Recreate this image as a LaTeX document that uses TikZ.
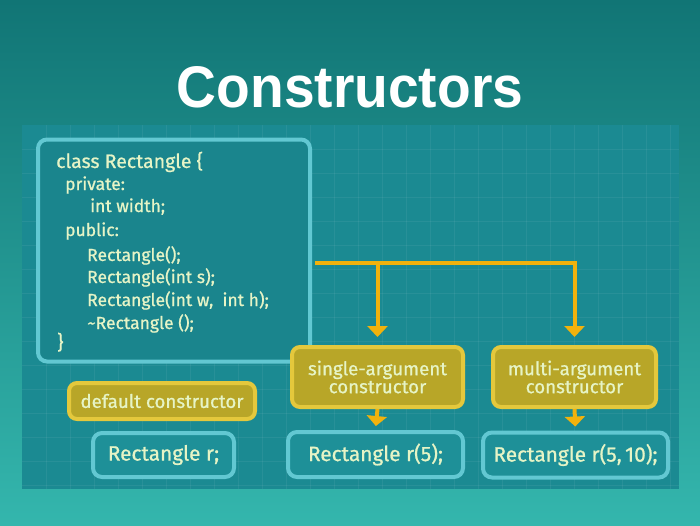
\documentclass[tikz,border=0pt]{standalone}
\usepackage{fontspec}
\setmainfont[FakeBold=0.8]{Fira Sans}
\newfontfamily\titlefont[FakeStretch=0.94]{Liberation Sans}
\usetikzlibrary{arrows.meta,positioning}

\definecolor{bgtop}{HTML}{117575}
\definecolor{bgbot}{HTML}{34B6AD}
\definecolor{panel}{HTML}{1B8A92}
\definecolor{codefill}{HTML}{1A858D}
\definecolor{cyanline}{HTML}{62C8D2}
\definecolor{codetext}{HTML}{E6F4C6}
\definecolor{olivefill}{HTML}{B8A628}
\definecolor{oliveline}{HTML}{E4C83C}
\definecolor{arrowyel}{HTML}{F2B20C}
\definecolor{objfill}{HTML}{1E9098}

\tikzset{
  codebox/.style={draw=cyanline, line width=4pt, fill=codefill, rounded corners=9pt},
  codeline/.style={anchor=base west, inner sep=0pt, text=codetext,
    font=\fontsize{17.5}{20}\selectfont},
  kindbox/.style={draw=oliveline, line width=4pt, fill=olivefill, rounded corners=8pt,
    text=codetext, align=center, font=\fontsize{18.7}{21}\selectfont},
  objbox/.style={draw=cyanline, line width=4pt, fill=objfill, rounded corners=9pt,
    text=codetext, font=\fontsize{20.8}{24}\selectfont},
  bigarrow/.style={draw=arrowyel, line width=4pt,
    -{Triangle[width=20pt,length=11pt]}, shorten >=8pt},
  smallarrow/.style={draw=arrowyel, line width=4pt,
    -{Triangle[width=20pt,length=10pt]}, shorten >=4pt},
  gridline/.style={draw=white, opacity=0.06, line width=0.8pt}
}

\begin{document}
\begin{tikzpicture}[x=1pt,y=-1pt]
	\useasboundingbox (0,0) rectangle (700,525);
	%%  background  %%%%%%%%
	\shade[top color=bgtop, bottom color=bgbot] (0,0) rectangle (700,525);
	\fill[panel] (22,125) rectangle (679,489);
	\foreach \gx in {46,70,...,670} \draw[gridline] (\gx,125) -- (\gx,489);
	\foreach \gy in {149,173,...,485} \draw[gridline] (22,\gy) -- (679,\gy);

	%%  title  %%%%%%%%
	\node[anchor=base, inner sep=0pt, text=white,
	  font=\titlefont\bfseries\fontsize{58.7}{62}\selectfont] (title) at (350,107) {Constructors};

	%%  class declaration  %%%%%%%%
	\node[codebox, minimum width=272pt, minimum height=222pt] (code) at (174,250.5) {};
	\node[codeline, font=\fontsize{19.5}{22}\selectfont] (decl) at (56,168) {class Rectangle \{};
	\node[codeline] (priv) at (65,190) {private:};
	\node[codeline] (width) at (90,212) {int width;};
	\node[codeline] (publ) at (65,236) {public:};
	\node[codeline] (ctor0) at (87,261) {Rectangle();};
	\node[codeline] (ctor1) at (87,283) {Rectangle(int s);};
	\node[codeline] (ctor2) at (87,306) {Rectangle(int w,\ \ int h);};
	\node[codeline] (dtor) at (87,329) {\char`\~Rectangle ();};
	\node[codeline, font=\fontsize{19.5}{22}\selectfont] (close) at (57,349) {\}};

	%%  kinds of constructor  %%%%%%%%
	\node[kindbox, minimum width=186pt, minimum height=36pt] (dflt) at (162,401) {default constructor};
	\node[kindbox, minimum width=171pt, minimum height=60pt] (single) at (377.5,377) {single-argument\\[-3pt]constructor};
	\node[kindbox, minimum width=163pt, minimum height=60pt] (multi) at (574.5,377) {multi-argument\\[-3pt]constructor};

	%%  objects  %%%%%%%%
	\node[objbox, minimum width=141pt, minimum height=44pt] (objr) at (163.5,455) {Rectangle r;};
	\node[objbox, minimum width=175pt, minimum height=45pt] (objs) at (375.5,454.5) {Rectangle r(5);};
	\node[objbox, minimum width=185pt, minimum height=45pt] (objm) at (575.5,455) {Rectangle r(5,\,10);};

	%%  arrows  %%%%%%%%
	\coordinate (fork) at (315,263);
	\draw[bigarrow] (fork) -| (multi.north);
	\draw[bigarrow] (fork -| single.north) -- (single.north);
	\draw[smallarrow] (single.south) -- (objs.north);
	\draw[smallarrow] (multi.south) -- (objm.north);
\end{tikzpicture}
\end{document}
